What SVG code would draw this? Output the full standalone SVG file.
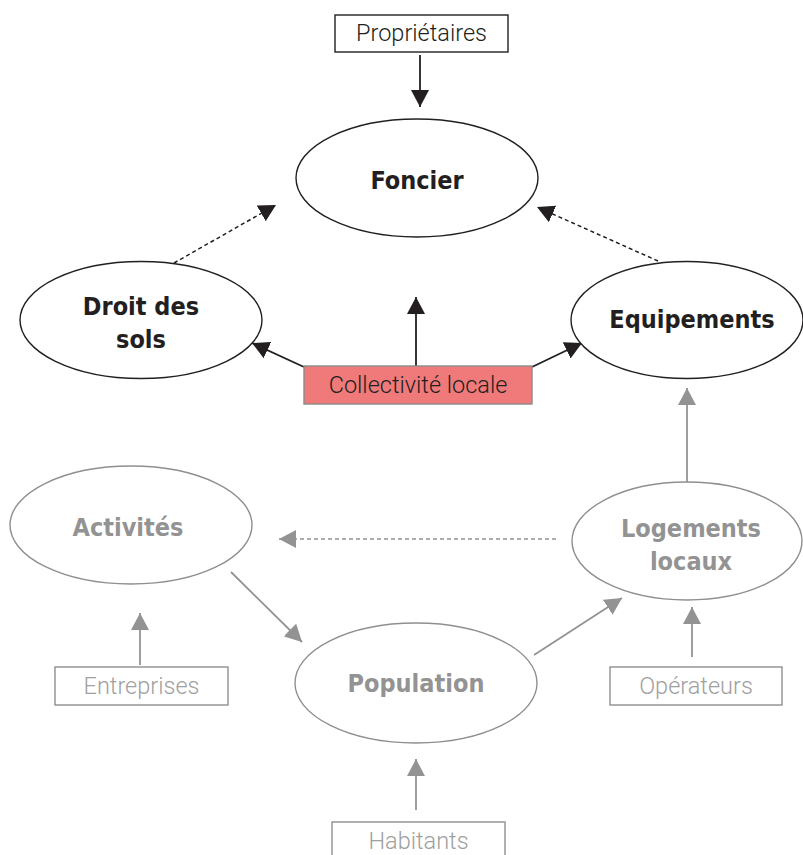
<svg xmlns="http://www.w3.org/2000/svg" width="803" height="855" viewBox="0 0 803 855">
  <style>
    .bk { fill: #ffffff; stroke: #231f20; stroke-width: 1.4; }
    .gy { fill: #ffffff; stroke: #8f8f8f; stroke-width: 1.4; }
    .title { font-family: "DejaVu Sans Condensed", "DejaVu Sans", sans-serif; font-stretch: condensed; font-weight: bold; font-size: 25px; text-anchor: middle; }
    .label { font-family: Roboto, "Liberation Sans", sans-serif; font-weight: 300; font-size: 23.5px; text-anchor: middle; }
    .dark { fill: #231f20; }
    .grey { fill: #939393; }
    .lgrey { fill: #a0a0a0; }
    .lnk { fill: none; stroke: #231f20; stroke-width: 1.8; }
    .lnkg { fill: none; stroke: #939393; stroke-width: 1.8; }
    .dot { stroke-dasharray: 4 3; stroke-width: 1.5; }
  </style>
  <defs>
    <marker id="ah" markerUnits="userSpaceOnUse" markerWidth="18" markerHeight="18" viewBox="0 0 18 18" refX="17" refY="9" orient="auto">
      <path d="M0,0 L17,9 L0,18 Z" fill="#231f20"/>
    </marker>
    <marker id="ahg" markerUnits="userSpaceOnUse" markerWidth="18" markerHeight="18" viewBox="0 0 18 18" refX="17" refY="9" orient="auto">
      <path d="M0,0 L17,9 L0,18 Z" fill="#939393"/>
    </marker>
  </defs>

  <!-- connectors -->
  <g id="connectors">
    <line class="lnk" x1="420" y1="55" x2="420" y2="107" marker-end="url(#ah)"/>
    <line class="lnk dot" x1="174" y1="263" x2="276" y2="205" marker-end="url(#ah)"/>
    <line class="lnk dot" x1="658" y1="261" x2="537" y2="207" marker-end="url(#ah)"/>
    <line class="lnk" x1="416" y1="366" x2="416" y2="297" marker-end="url(#ah)"/>
    <line class="lnk" x1="304" y1="367" x2="252" y2="343" marker-end="url(#ah)"/>
    <line class="lnk" x1="532" y1="367" x2="582" y2="343" marker-end="url(#ah)"/>
    <line class="lnkg" x1="687" y1="482" x2="687" y2="388" marker-end="url(#ahg)"/>
    <line class="lnkg dot" x1="556" y1="539" x2="279" y2="539" marker-end="url(#ahg)"/>
    <line class="lnkg" x1="231" y1="572" x2="302" y2="642" marker-end="url(#ahg)"/>
    <line class="lnkg" x1="534" y1="655" x2="622" y2="598" marker-end="url(#ahg)"/>
    <line class="lnkg" x1="140" y1="665" x2="140" y2="613" marker-end="url(#ahg)"/>
    <line class="lnkg" x1="416" y1="810" x2="416" y2="759" marker-end="url(#ahg)"/>
    <line class="lnkg" x1="692" y1="657" x2="692" y2="607" marker-end="url(#ahg)"/>
  </g>

  <g id="proprietaires">
    <rect class="bk" x="335" y="15" width="173" height="37"/>
    <text class="label dark" x="421.5" y="41">Propriétaires</text>
  </g>
  <g id="foncier">
    <ellipse class="bk" cx="417" cy="178" rx="121" ry="59"/>
    <text class="title dark" x="417" y="189">Foncier</text>
  </g>
  <g id="droit-des-sols">
    <ellipse class="bk" cx="141" cy="320" rx="121" ry="58.5"/>
    <text class="title dark" x="141" y="315">Droit des</text>
    <text class="title dark" x="141" y="348">sols</text>
  </g>
  <g id="equipements">
    <ellipse class="bk" cx="687" cy="320" rx="116" ry="58.5"/>
    <text class="title dark" x="692" y="328">Equipements</text>
  </g>
  <g id="collectivite">
    <rect x="304" y="366" width="228" height="38" fill="#f07a7a" stroke="#8a8a8a" stroke-width="1.4"/>
    <text class="label dark" x="418" y="393">Collectivité locale</text>
  </g>
  <g id="activites">
    <ellipse class="gy" cx="131" cy="525" rx="121" ry="59"/>
    <text class="title grey" x="128" y="536">Activités</text>
  </g>
  <g id="logements">
    <ellipse class="gy" cx="687" cy="541" rx="115" ry="59"/>
    <text class="title grey" x="691" y="537">Logements</text>
    <text class="title grey" x="691" y="570">locaux</text>
  </g>
  <g id="population">
    <ellipse class="gy" cx="416" cy="683" rx="121" ry="60"/>
    <text class="title grey" x="416" y="692">Population</text>
  </g>
  <g id="entreprises">
    <rect class="gy" x="55" y="667" width="173" height="38"/>
    <text class="label lgrey" x="141.5" y="694">Entreprises</text>
  </g>
  <g id="operateurs">
    <rect class="gy" x="610" y="667" width="172" height="38"/>
    <text class="label lgrey" x="696" y="694">Opérateurs</text>
  </g>
  <g id="habitants">
    <rect class="gy" x="332" y="822" width="173" height="40"/>
    <text class="label lgrey" x="418.5" y="849">Habitants</text>
  </g>
</svg>
